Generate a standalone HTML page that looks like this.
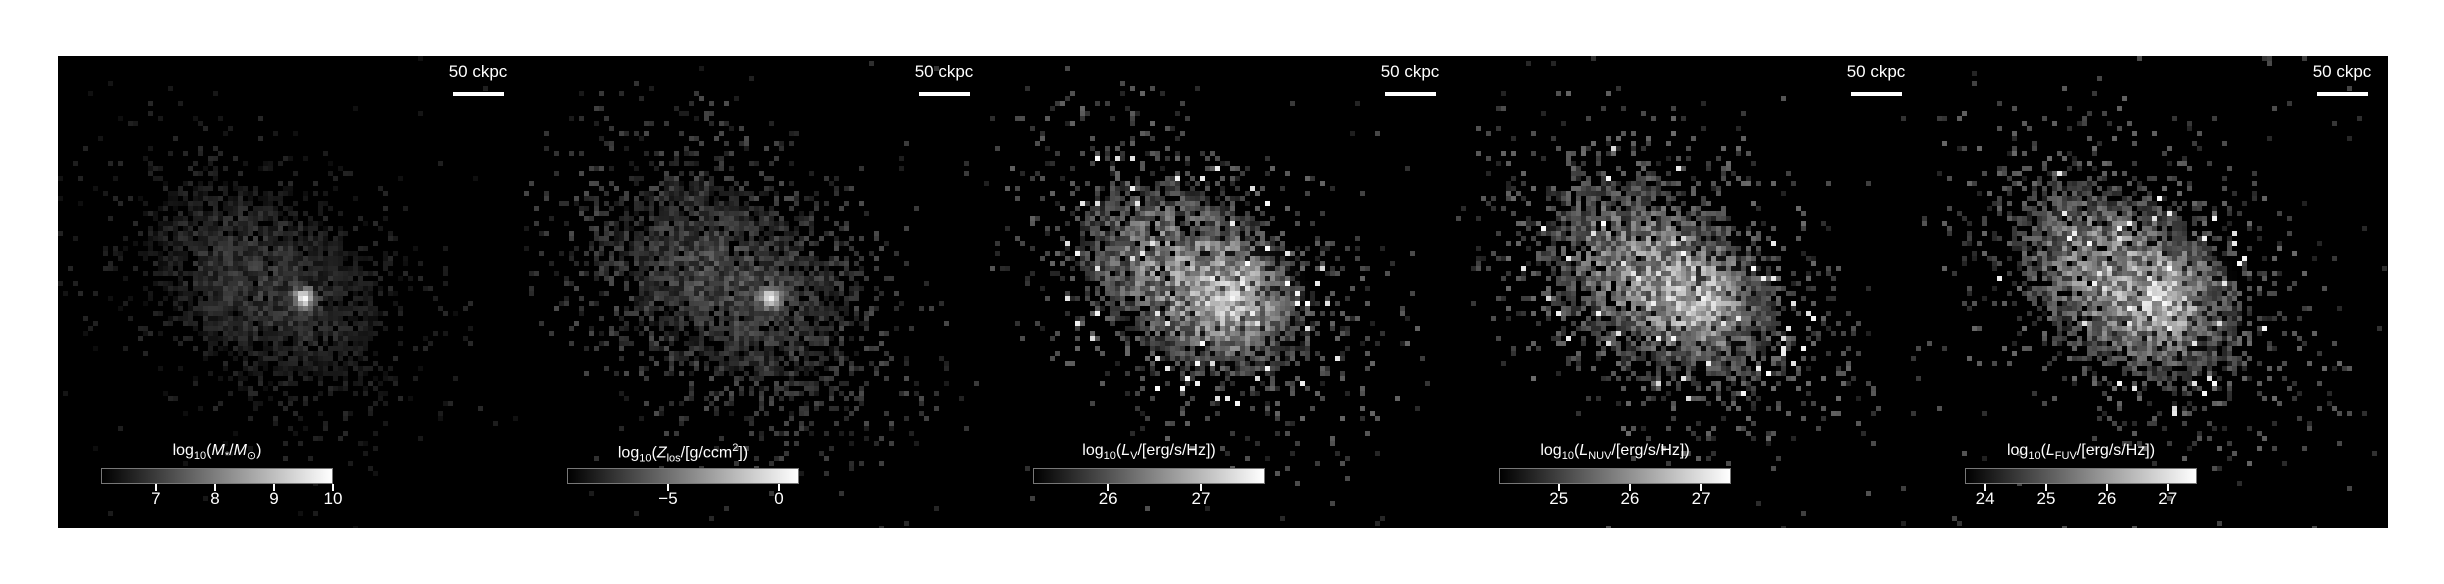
<!DOCTYPE html>
<html><head><meta charset="utf-8"><style>
body{margin:0;width:2444px;height:584px;background:#fff;position:relative;overflow:hidden;font-family:"Liberation Sans","DejaVu Sans",sans-serif;}
.panel{position:absolute;top:56px;width:466px;height:472px;background:#000;}
.panel canvas{position:absolute;left:0;top:0;image-rendering:pixelated;}
.sbl{position:absolute;left:370px;width:100px;text-align:center;top:6px;color:#fff;font-size:17px;}
.sbb{position:absolute;left:395px;top:36px;width:51px;height:4px;background:#fff;}
.cbar{position:absolute;top:412px;height:14px;border:1px solid #777;background:linear-gradient(to right,#000,#fff);}
.cbt{position:absolute;top:386px;color:#fff;font-size:16px;white-space:nowrap;transform:translateX(-50%);}
.cbt sub,.cbt sup{font-size:11px;}
.tick{position:absolute;top:428px;width:2px;height:7px;background:#fff;}
.tl{position:absolute;top:433px;color:#fff;font-size:17px;transform:translateX(-50%);}
</style></head><body>
<div id="root"></div>
<script>
const panelTitles=['log<sub>10</sub>(<i>M</i><sub>*</sub>/<i>M</i><sub>⊙</sub>)','log<sub>10</sub>(<i>Z</i><sub>los</sub>/[g/ccm<sup>2</sup>])','log<sub>10</sub>(<i>L</i><sub>V</sub>/[erg/s/Hz])','log<sub>10</sub>(<i>L</i><sub>NUV</sub>/[erg/s/Hz])','log<sub>10</sub>(<i>L</i><sub>FUV</sub>/[erg/s/Hz])'];
const cbMin=[6.07,-9.55,25.19,24.16,23.67];
const cbMax=[10,0.9,27.69,27.42,27.48];
const cbTicks=[[7,8,9,10],[-5,0],[26,27],[25,26,27],[24,25,26,27]];
const cbTickLabels=[['7','8','9','10'],['−5','0'],['26','27'],['25','26','27'],['24','25','26','27']];
const diskLevel=[0.3,0.4,0.75,0.78,0.78];
const coreLevel=[0.75,0.6,0.3,0.25,0.25];
const coreSigma=[7,7,28,28,28];
const haloLevel=[0.16,0.3,0.4,0.42,0.42];
const haloOcc=[0.3,0.5,0.35,0.4,0.4];
const root=document.getElementById('root');
function hash(i,j,s){let h=(i*374761393+j*668265263+s*982451653)|0;h=(h^(h>>>13))*1274126177|0;h=h^(h>>>16);return ((h>>>0)%10000)/10000;}
for(let k=0;k<5;k++){
  const left=58+k*466;
  const p=document.createElement('div');
  p.className='panel';p.style.left=left+'px';
  
  
  const cv=document.createElement('canvas');cv.width=466;cv.height=472;
  
  
  p.appendChild(cv);
  const ctx=cv.getContext('2d');
  const cs=5;
  const ca=Math.cos(0.6),sa=Math.sin(0.6);
  for(let i=0;i<94;i++)for(let j=0;j<95;j++){
    const x=i*cs+2.5,y=j*cs+2.5;
    const dx=x-205,dy=y-225;
    const pp=dx*ca+dy*sa,qq=-dx*sa+dy*ca;
    const r=Math.sqrt((pp/115)**2+(qq/75)**2);
    const n=hash(i,j,k+1),o=hash(j,i,k+7),m=hash(i+11,j+17,k+3);
    let v=0;
    if(r<1.1){ if(o<0.95-0.45*r*r) v=diskLevel[k]*(0.3+0.7*n)*(1-0.5*r*r); else if(m<0.5) v=haloLevel[k]*(0.3+0.7*n); }
    else if(r<2.2){ const pr=haloOcc[k]*Math.exp(-(r-1.1)*2.0); if(o<pr) v=haloLevel[k]*(0.3+0.7*n); }
    else { if(o<0.008) v=haloLevel[k]*(0.3+0.5*n); }
    const cd=(x-246)**2+(y-242)**2;
    v+=coreLevel[k]*Math.exp(-cd/(2*coreSigma[k]**2));
    if(k>=2 && r<1.5 && hash(i+3,j+5,k)<0.02) v=0.85+0.15*n;
    v=Math.min(1,v);
    if(v>0.01){const g=Math.round(v*255);ctx.fillStyle=`rgb(${g},${g},${g})`;ctx.fillRect(i*cs,j*cs,cs,cs);}
  }
  const sl=document.createElement('div');sl.className='sbl';sl.textContent='50 ckpc';
  
  
  p.appendChild(sl);
  const sb=document.createElement('div');sb.className='sbb';
  
  
  p.appendChild(sb);
  const bx=43,bw=232;
  const cb=document.createElement('div');cb.className='cbar';cb.style.left=bx+'px';cb.style.width=(bw-2)+'px';
  
  
  p.appendChild(cb);
  const t=document.createElement('div');t.className='cbt';t.style.left=(bx+bw/2)+'px';t.innerHTML=panelTitles[k];
  
  
  p.appendChild(t);
  cbTicks[k].forEach((tv,ti)=>{
    const xx=bx+(tv-cbMin[k])/(cbMax[k]-cbMin[k])*bw;
    const tk=document.createElement('div');tk.className='tick';tk.style.left=(xx-1)+'px';
    
    
    p.appendChild(tk);
    const tl=document.createElement('div');tl.className='tl';tl.style.left=xx+'px';tl.textContent=cbTickLabels[k][ti];
    
    
    p.appendChild(tl);
  });
  root.appendChild(p);
}
</script>
</body></html>
